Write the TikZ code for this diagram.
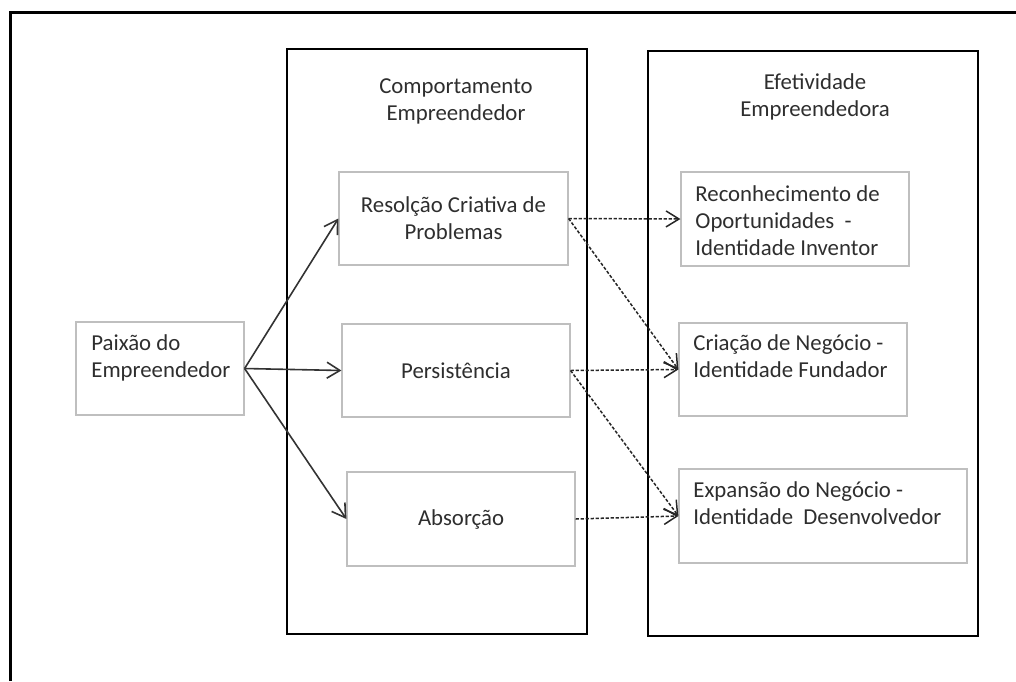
\documentclass[tikz,border=0pt]{standalone}
\usepackage{fontspec}
\setmainfont{Carlito}
\usetikzlibrary{arrows.meta}
\tikzset{
caixa/.style={draw=black!25, line width=0.6pt, inner sep=0pt,
              font=\fontsize{11.4}{13.5}\selectfont, text=black!82, align=center}
                }
\tikzset{
texto/.style = {inner sep=0pt, font=\fontsize{11.4}{13.5}\selectfont, text=black!82}
         }
\tikzset{
bloco/.style = {draw=black, line width=0.75pt, inner sep=0pt}
         }
\tikzset{
seta/.style = {-{Straight Barb[length=6.5pt,width=8pt]}, draw=black!80, line width=0.8pt},
tracejada/.style = {seta, draw=black!85, line width=0.75pt, dash pattern=on 1.6pt off 0.9pt}
         }
\begin{document}
\begin{tikzpicture}[x=0.5pt,y=-0.5pt]
    \useasboundingbox (0,0) rectangle (1016,681);

          % MOLDURA
    \draw[line width=1.5pt] (10,681) -- (10,12) -- (1016,12);

          % BLOCOS
    \node[bloco, minimum width=150pt, minimum height=292.5pt] (comp) at (437,341.5) {};
    \node[bloco, minimum width=165pt, minimum height=292.5pt] (efet) at (813,343.5) {};
    % (base = ultima linha)
    \node[texto, align=center, anchor=base] (tcomp) at (456,120) {Comportamento\\Empreendedor};
    \node[texto, align=center, anchor=base] (tefet) at (815,116) {Efetividade\\Empreendedora};

          % CAIXAS
    \node[caixa, minimum width=84pt, minimum height=46.5pt] (paixao) at (160,368.5) {};
    \node[caixa, minimum width=114.5pt, minimum height=46.5pt] (resol) at (453.5,218.5) {Resolção Criativa de\\Problemas};
    \node[caixa, minimum width=114pt, minimum height=46.5pt] (persist) at (456,370.5) {Persistência};
    \node[caixa, minimum width=114pt, minimum height=47pt] (absor) at (461,519) {Absorção};
    \node[caixa, minimum width=114pt, minimum height=47pt] (reconh) at (795,219) {};
    \node[caixa, minimum width=114pt, minimum height=46.5pt] (criacao) at (793,369.5) {};
    \node[caixa, minimum width=144pt, minimum height=47pt] (expans) at (823,516) {};

    \node[texto, align=left, anchor=base west] (tpaixao) at (91,377) {Paixão do\\Empreendedor};
    \node[texto, align=left, anchor=base west] (treconh) at (695,255) {Reconhecimento de\\Oportunidades\ \ -\\Identidade Inventor};
    \node[texto, align=left, anchor=base west] (tcriacao) at (693,377) {Criação de Negócio -\\Identidade Fundador};
    \node[texto, align=left, anchor=base west] (texpans) at (693,524) {Expansão do Negócio -\\Identidade\ \ Desenvolvedor};

          % SETAS
    \draw[seta] (paixao.east) -- (resol.west);
    \draw[seta] (paixao.east) -- (persist.west);
    \draw[seta] (paixao.east) -- (absor.west);

    \draw[tracejada] (resol.east) -- (reconh.west);
    \draw[tracejada] (resol.east) -- (criacao.west);
    \draw[tracejada] (persist.east) -- (criacao.west);
    \draw[tracejada] (persist.east) -- (expans.west);
    \draw[tracejada] (absor.east) -- (expans.west);

\end{tikzpicture}
\end{document}
